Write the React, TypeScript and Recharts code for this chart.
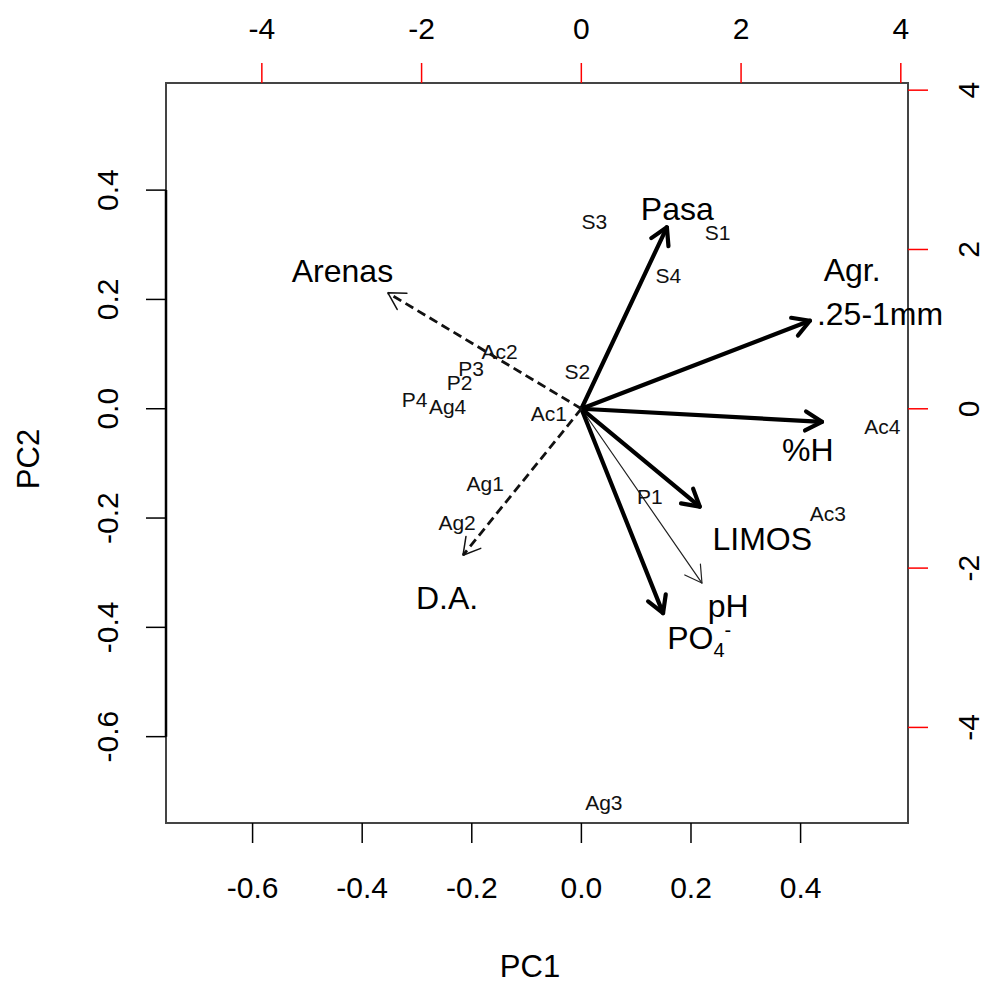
import {
  ScatterChart,
  Scatter,
  XAxis,
  YAxis,
  ReferenceLine,
  ReferenceArea,
} from "recharts";

// axis limits (loadings on bottom/left, scores on top/right)
const loadLim = [-0.758, 0.596];
const scoreLim = [-5.2, 4.09];
const loadTicks = [-0.6, -0.4, -0.2, 0, 0.2, 0.4];
const scoreTicks = [-4, -2, 0, 2, 4];

// variable loadings (arrows)
const varNames = ["Pasa", "Agr.", "%H", "LIMOS", "pH", "PO4", "Arenas", "D.A."];
const varPC1 = [0.156, 0.417, 0.439, 0.216, 0.22, 0.149, -0.353, -0.216];
const varPC2 = [0.332, 0.161, -0.024, -0.179, -0.319, -0.374, 0.212, -0.268];

// variable labels
const varLabels = ["Pasa", "Agr.", ".25-1mm", "%H", "LIMOS", "pH", "PO4-", "Arenas", "D.A."];
const varLabelPC1 = [0.175, 0.494, 0.545, 0.413, 0.33, 0.268, 0.215, -0.436, -0.245];
const varLabelPC2 = [0.367, 0.255, 0.175, -0.075, -0.238, -0.36, -0.418, 0.253, -0.345];

// sample scores
const obsNames = ["S3", "S1", "S4", "S2", "Ac2", "P3", "P2", "P4", "Ag4", "Ac1", "Ag1", "Ag2", "P1", "Ac4", "Ac3", "Ag3"];
const obsPC1 = [0.163, 1.705, 1.091, -0.05, -1.022, -1.379, -1.524, -2.088, -1.674, -0.408, -1.204, -1.555, 0.859, 3.768, 3.085, 0.282];
const obsPC2 = [2.357, 2.213, 1.68, 0.47, 0.721, 0.502, 0.332, 0.113, 0.031, -0.056, -0.934, -1.423, -1.097, -0.219, -1.31, -4.947];

const arrowKind: Record<string, string> = {
  Pasa: "bold",
  "Agr.": "bold",
  "%H": "bold",
  LIMOS: "bold",
  pH: "thin",
  PO4: "bold",
  Arenas: "dashed",
  "D.A.": "dashed",
};

const arrowStyle: Record<string, { w: number; headW: number; dash?: string; color: string }> = {
  bold: { w: 4.2, headW: 4.2, color: "#000" },
  thin: { w: 1.2, headW: 1.2, color: "#222" },
  dashed: { w: 2.8, headW: 1.5, dash: "9 5", color: "#111" },
};

const FONT = "'Liberation Sans', Arial, sans-serif";
const TICK_FS = 30;
const VAR_FS = 32;
const OBS_FS = 21;

const varRows = varLabels.map((name, i) => ({ x: varLabelPC1[i], y: varLabelPC2[i], name }));
const obsRows = obsNames.map((name, i) => ({ x: obsPC1[i], y: obsPC2[i], name }));

const makeArrow = (kind: string) => (p: any) => {
  const { x1, y1, x2, y2 } = p;
  if (x1 == null || x2 == null) return null;
  const s = arrowStyle[kind];
  const a = Math.atan2(y2 - y1, x2 - x1);
  const L = 19;
  const sp = Math.PI / 6;
  const hx1 = x2 - L * Math.cos(a - sp);
  const hy1 = y2 - L * Math.sin(a - sp);
  const hx2 = x2 - L * Math.cos(a + sp);
  const hy2 = y2 - L * Math.sin(a + sp);
  return (
    <g>
      <line
        x1={x1}
        y1={y1}
        x2={x2}
        y2={y2}
        stroke={s.color}
        strokeWidth={s.w}
        strokeDasharray={s.dash}
        strokeLinecap={s.dash ? "butt" : "round"}
      />
      <polyline
        points={`${hx1},${hy1} ${x2},${y2} ${hx2},${hy2}`}
        fill="none"
        stroke={s.color}
        strokeWidth={s.headW}
        strokeLinejoin="round"
        strokeLinecap="round"
      />
    </g>
  );
};

const tickText = (x: number, y: number, label: string, rotate: boolean) => (
  <text
    x={x}
    y={y + 0.36 * TICK_FS}
    textAnchor="middle"
    fontSize={TICK_FS}
    fontFamily={FONT}
    fill="#000"
    transform={rotate ? `rotate(-90 ${x} ${y})` : undefined}
  >
    {label}
  </text>
);

const BottomTick = (p: any) => tickText(p.payload.coordinate, p.y + 44, p.payload.value.toFixed(1), false);
const TopTick = (p: any) => tickText(p.payload.coordinate, p.y - 35, String(p.payload.value), false);
const LeftTick = (p: any) => tickText(p.x - 39, p.payload.coordinate, p.payload.value.toFixed(1), true);
const RightTick = (p: any) => tickText(p.x + 40, p.payload.coordinate, String(p.payload.value), true);

const ObsLabel = (p: any) => (
  <text
    x={p.cx}
    y={p.cy + 0.36 * OBS_FS}
    textAnchor="middle"
    fontSize={OBS_FS}
    fontFamily={FONT}
    fill="#111"
  >
    {p.payload.name}
  </text>
);

const VarLabel = (p: any) => {
  const name = p.payload.name;
  if (name === "PO4-") {
    return (
      <text x={p.cx} y={p.cy + 0.36 * VAR_FS} textAnchor="middle" fontSize={VAR_FS} fontFamily={FONT} fill="#000">
        PO
        <tspan fontSize={20} dy={8}>4</tspan>
        <tspan fontSize={20} dy={-20}>-</tspan>
      </text>
    );
  }
  return (
    <text x={p.cx} y={p.cy + 0.36 * VAR_FS} textAnchor="middle" fontSize={VAR_FS} fontFamily={FONT} fill="#000">
      {name}
    </text>
  );
};

export default function App() {
  return (
    <div
      style={{
        position: "absolute",
        left: 0,
        top: 0,
        width: 985,
        height: 985,
        background: "#fff",
        fontFamily: FONT,
      }}
    >
      <ScatterChart width={985} height={985} margin={{ top: 0, right: 0, bottom: 0, left: 0 }}>
        <XAxis
          xAxisId="load"
          type="number"
          dataKey="x"
          orientation="bottom"
          height={162}
          domain={loadLim}
          ticks={loadTicks}
          interval={0}
          axisLine={false}
          tickSize={20}
          tickMargin={0}
          tickLine={{ stroke: "#000", strokeWidth: 1.5 }}
          tick={BottomTick}
          label={() => (
            <text x={530} y={966 + 0.36 * 31} textAnchor="middle" fontSize={31} fontFamily={FONT} fill="#000">
              PC1
            </text>
          )}
        />
        <XAxis
          xAxisId="score"
          type="number"
          dataKey="x"
          orientation="top"
          height={83}
          domain={scoreLim}
          ticks={scoreTicks}
          interval={0}
          axisLine={false}
          tickSize={20}
          tickMargin={0}
          tickLine={{ stroke: "#ff0000", strokeWidth: 1.5 }}
          tick={TopTick}
        />
        <YAxis
          yAxisId="load"
          type="number"
          dataKey="y"
          orientation="left"
          width={166}
          domain={loadLim}
          ticks={loadTicks}
          interval={0}
          axisLine={false}
          tickSize={20}
          tickMargin={0}
          tickLine={{ stroke: "#000", strokeWidth: 1.5 }}
          tick={LeftTick}
          label={() => (
            <text
              x={28}
              y={459 + 0.36 * 31}
              textAnchor="middle"
              fontSize={31}
              fontFamily={FONT}
              fill="#000"
              transform="rotate(-90 28 459)"
            >
              PC2
            </text>
          )}
        />
        <YAxis
          yAxisId="score"
          type="number"
          dataKey="y"
          orientation="right"
          width={77}
          domain={scoreLim}
          ticks={scoreTicks}
          interval={0}
          axisLine={false}
          tickSize={20}
          tickMargin={0}
          tickLine={{ stroke: "#ff0000", strokeWidth: 1.5 }}
          tick={RightTick}
        />

        <ReferenceArea
          xAxisId="load"
          yAxisId="load"
          x1={loadLim[0]}
          x2={loadLim[1]}
          y1={loadLim[0]}
          y2={loadLim[1]}
          ifOverflow="visible"
          fill="none"
          fillOpacity={0}
          stroke="#444"
          strokeWidth={2}
        />
        <ReferenceLine
          xAxisId="load"
          yAxisId="load"
          ifOverflow="visible"
          segment={[
            { x: loadLim[0], y: loadTicks[loadTicks.length - 1] },
            { x: loadLim[0], y: loadTicks[0] },
          ]}
          stroke="#000"
          strokeWidth={2.5}
        />

        {varNames.map((name, i) => (
          <ReferenceLine
            key={name}
            xAxisId="load"
            yAxisId="load"
            ifOverflow="visible"
            segment={[
              { x: 0, y: 0 },
              { x: varPC1[i], y: varPC2[i] },
            ]}
            shape={makeArrow(arrowKind[name])}
          />
        ))}

        <Scatter
          xAxisId="score"
          yAxisId="score"
          data={obsRows}
          shape={ObsLabel}
          isAnimationActive={false}
        />
        <Scatter
          xAxisId="load"
          yAxisId="load"
          data={varRows}
          shape={VarLabel}
          isAnimationActive={false}
        />
      </ScatterChart>
    </div>
  );
}
